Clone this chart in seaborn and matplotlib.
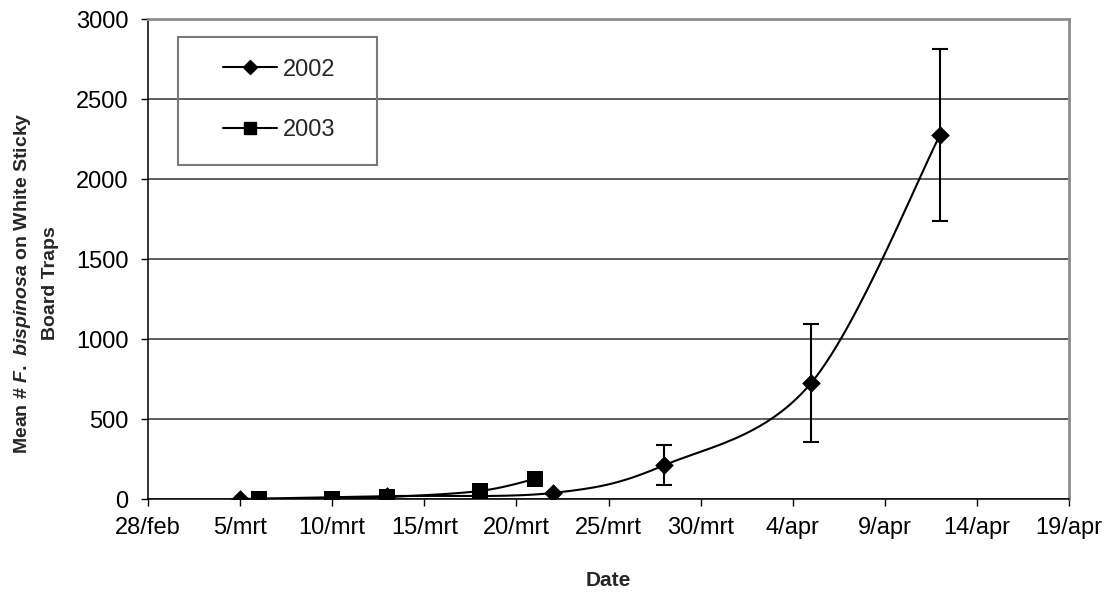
import numpy as np
import pandas as pd
import matplotlib
matplotlib.use("Agg")
import matplotlib.pyplot as plt
import matplotlib.dates as mdates
from matplotlib.lines import Line2D
from matplotlib.patches import Rectangle
import seaborn as sns

# data (month-day, both seasons drawn on one date axis)
dates_2002 = ["03-05", "03-13", "03-22", "03-28", "04-05", "04-12"]
mean_2002 = [0, 18, 38, 210, 725, 2275]
err_2002 = [0, 0, 0, 125, 368, 537]

dates_2003 = ["03-06", "03-10", "03-13", "03-18", "03-21"]
mean_2003 = [0, 3, 12, 50, 125]
err_2003 = [0, 0, 0, 0, 14]

tick_dates = ["02-28", "03-05", "03-10", "03-15", "03-20", "03-25", "03-30",
              "04-04", "04-09", "04-14", "04-19"]
tick_labels = ["28/feb", "5/mrt", "10/mrt", "15/mrt", "20/mrt", "25/mrt",
               "30/mrt", "4/apr", "9/apr", "14/apr", "19/apr"]


def to_num(md):
    return mdates.date2num(pd.to_datetime(["2002-" + d for d in md]))


def smooth(x, y, n=30):
    # Excel-style smoothed line: cubic bezier through the points
    x = np.asarray(x, float)
    y = np.asarray(y, float)
    xs, ys = [], []
    for i in range(len(x) - 1):
        i0, i3 = max(i - 1, 0), min(i + 2, len(x) - 1)
        c1x = x[i] + (x[i + 1] - x[i0]) / 6
        c1y = y[i] + (y[i + 1] - y[i0]) / 6
        c2x = x[i + 1] - (x[i3] - x[i]) / 6
        c2y = y[i + 1] - (y[i3] - y[i]) / 6
        t = np.linspace(0, 1, n)
        a, b, c, d = (1 - t) ** 3, 3 * (1 - t) ** 2 * t, 3 * (1 - t) * t ** 2, t ** 3
        xs.append(a * x[i] + b * c1x + c * c2x + d * x[i + 1])
        ys.append(a * y[i] + b * c1y + c * c2y + d * y[i + 1])
    return np.concatenate(xs), np.concatenate(ys)


sns.set_theme(style="white")
plt.rcParams["font.family"] = ["Liberation Sans", "DejaVu Sans"]
plt.rcParams["mathtext.fontset"] = "custom"
plt.rcParams["mathtext.it"] = "Liberation Sans:italic:bold"
plt.rcParams["mathtext.rm"] = "Liberation Sans:bold"

fig = plt.figure(figsize=(11.13, 5.96), dpi=100)
ax = fig.add_axes([148 / 1113, 97 / 596, 921 / 1113, 480 / 596])

x02 = to_num(dates_2002)
x03 = to_num(dates_2003)

for x, y, e, mk, ms in [(x02, mean_2002, err_2002, "D", 9.5),
                        (x03, mean_2003, err_2003, "s", 11)]:
    sx, sy = smooth(x, y)
    ax.plot(sx, sy, color="black", lw=1.5, zorder=3)
    df = pd.DataFrame({"x": x, "y": y, "e": e})
    eb = df[df.e > 0]
    ax.errorbar(eb.x, eb.y, yerr=eb.e, fmt="none", ecolor="black",
                elinewidth=1.5, capsize=6, capthick=1.5, zorder=4)
    sns.scatterplot(data=df, x="x", y="y", marker=mk, s=ms ** 2, color="black",
                    edgecolor="black", linewidth=0, ax=ax, zorder=5)

ax.set_xlim(to_num(["02-28"])[0], to_num(["04-19"])[0])
ax.set_ylim(0, 3000)
ax.set_xticks(to_num(tick_dates))
ax.set_xticklabels(tick_labels)
ax.set_yticks(np.arange(0, 3001, 500))

ax.grid(axis="y", color="#333333", lw=1.1)
ax.grid(axis="x", visible=False)
for s in ["left", "bottom"]:
    ax.spines[s].set_color("black")
    ax.spines[s].set_linewidth(1.1)
for s in ["top", "right"]:
    ax.spines[s].set_color("#8c8c8c")
    ax.spines[s].set_linewidth(2)

ax.tick_params(axis="both", which="major", direction="out", length=5, width=1,
               color="black", labelsize=17, labelcolor="black", left=True,
               bottom=True)
ax.tick_params(axis="x", pad=8)
ax.tick_params(axis="y", pad=9)

ax.set_xlabel("Date", fontsize=15, fontweight="bold", labelpad=23)
ax.set_ylabel(r"Mean # $\mathit{F.\ bispinosa}$ on White Sticky" + "\nBoard Traps",
              fontsize=14, fontweight="bold", multialignment="center",
              linespacing=1.65)
ax.yaxis.set_label_coords(-0.097, 0.45)

# legend box
fig.add_artist(Rectangle((178 / 1113, 1 - 165 / 596), 199 / 1113, 128 / 596,
                         transform=fig.transFigure, fill=False,
                         edgecolor="#7a7a7a", lw=1.5))
handles = [Line2D([], [], color="black", lw=1.5, marker="D", markersize=7),
           Line2D([], [], color="black", lw=1.5, marker="s", markersize=9)]
fig.legend(handles, ["2002", "2003"], loc="center",
           bbox_to_anchor=(279 / 1113, 1 - 100 / 596), frameon=False,
           fontsize=17, handlelength=2.3, handletextpad=0.25, labelspacing=1.65)

fig.savefig("out.png", dpi=100)
